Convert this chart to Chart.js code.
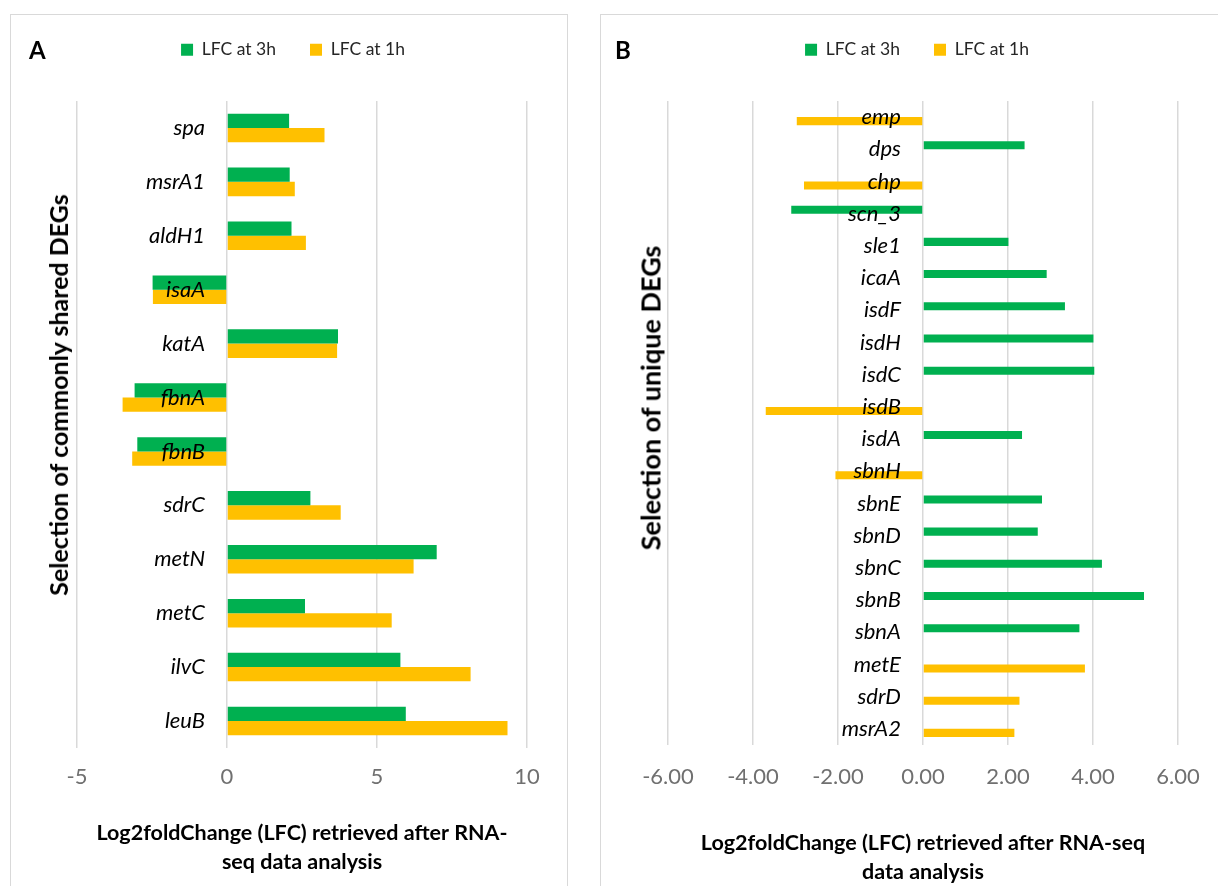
<!DOCTYPE html>
<html><head><meta charset="utf-8">
<script src="https://cdn.jsdelivr.net/npm/chart.js@4.4.1/dist/chart.umd.min.js"></script>
<style>
html,body{margin:0;padding:0;background:#fff;width:1218px;height:886px;overflow:hidden;font-family:Lato,sans-serif}
.panel{position:absolute;border:1.5px solid #d9d9d9;box-sizing:border-box}
#pa{left:10px;top:14px;width:558px;height:940px}
#pb{left:600px;top:14px;width:700px;height:940px}
canvas{position:absolute}
#ca{left:10px;top:14px}
#cb{left:600px;top:14px}
.letter{position:absolute;font-weight:bold;font-size:24px;color:#000;line-height:1}
.ytitle{position:absolute;font-weight:bold;font-size:25px;color:#000;white-space:nowrap;transform:translate(-50%,-50%) rotate(-90deg)}
</style>
</head>
<body>
<div class="panel" id="pa"></div>
<div class="panel" id="pb"></div>
<canvas id="ca" width="558" height="890"></canvas>
<canvas id="cb" width="640" height="890"></canvas>
<div class="letter" style="left:29px;top:38px">A</div>
<div class="letter" style="left:615px;top:38px">B</div>
<div class="ytitle" style="left:58px;top:395px">Selection of commonly shared DEGs</div>
<div class="ytitle" style="left:650px;top:398px;font-size:27px">Selection of unique DEGs</div>
<script>
// ---- Panel A data ----
const genesA = ['spa','msrA1','aldH1','isaA','katA','fbnA','fbnB','sdrC','metN','metC','ilvC','leuB'];
const lfc3hA = [2.07, 2.09, 2.15, -2.48, 3.70, -3.08, -2.99, 2.78, 6.99, 2.60, 5.78, 5.96];
const lfc1hA = [3.25, 2.26, 2.63, -2.47, 3.67, -3.48, -3.16, 3.79, 6.22, 5.49, 8.12, 9.35];
const ticksA = [-5, 0, 5, 10];
const tickLabelsA = ['-5', '0', '5', '10'];

// ---- Panel B data ----
const genesB = ['emp','dps','chp','scn_3','sle1','icaA','isdF','isdH','isdC','isdB','isdA','sbnH','sbnE','sbnD','sbnC','sbnB','sbnA','metE','sdrD','msrA2'];
const lfc3hB = [null, 2.39, null, -3.10, 2.01, 2.91, 3.34, 4.01, 4.03, null, 2.33, null, 2.80, 2.70, 4.21, 5.20, 3.68, null, null, null];
const lfc1hB = [-2.97, null, -2.80, null, null, null, null, null, null, -3.70, null, -2.06, null, null, null, null, null, 3.81, 2.27, 2.15];
const ticksB = [-6, -4, -2, 0, 2, 4, 6];
const tickLabelsB = ['-6.00', '-4.00', '-2.00', '0.00', '2.00', '4.00', '6.00'];

const seriesNames = ['LFC at 3h', 'LFC at 1h'];
const GREEN = '#00B050', YELLOW = '#FFC000', GRID = '#d9d9d9';

function makeChart(id, labels, s3, s1, ticks, tickLabels, cfg) {
  return new Chart(document.getElementById(id), {
    type: 'bar',
    data: {
      labels: labels,
      datasets: [
        {label: seriesNames[0], data: s3, backgroundColor: GREEN, borderWidth: 0, xAxisID: 'x', yAxisID: 'y'},
        {label: seriesNames[1], data: s1, backgroundColor: YELLOW, borderWidth: 0, xAxisID: 'x', yAxisID: 'y'}
      ]
    },
    options: {
      indexAxis: 'y',
      responsive: false,
      animation: false,
      devicePixelRatio: 1,
      datasets: {bar: {barPercentage: 1, categoryPercentage: cfg.catPct}},
      layout: {padding: cfg.padding},
      plugins: {
        legend: {
          position: 'top', align: 'center', weight: 1000,
          labels: {boxWidth: 12, boxHeight: 12, padding: 34, color: '#262626',
                   font: {family: 'Lato', size: 17.5}}
        },
        title: {display: true, text: ' ', weight: 500, padding: {top: 10.5, bottom: 10},
                font: {size: 10}},
        tooltip: {enabled: false}
      },
      scales: {
        x: {
          type: 'linear', position: 'bottom',
          min: ticks[0], max: ticks[ticks.length - 1],
          afterBuildTicks: (sc) => { sc.ticks = ticks.map(v => ({value: v})); },
          grid: {color: GRID, lineWidth: 1.5, drawTicks: false},
          border: {display: false},
          ticks: {padding: cfg.tickPad, color: '#707070', font: {family: 'Lato', size: 22},
                  maxRotation: 0,
                  callback: (v) => tickLabels[ticks.indexOf(v)]},
          title: {display: true, text: cfg.xTitle, color: '#000',
                  font: {family: 'Lato', size: 21.5, weight: 'bold', lineHeight: 1.35},
                  padding: {top: cfg.titlePadTop, bottom: 0}}
        },
        y: {
          type: 'category', position: {x: cfg.labelAt},
          grid: {display: false, drawTicks: false},
          border: {display: false},
          ticks: {z: 1, padding: 0, autoSkip: false, color: '#000',
                  font: {family: 'Lato', size: 22, style: 'italic'}}
        },
        ySpace: {
          axis: 'y', type: 'category', position: 'left', display: true,
          grid: {display: false, drawTicks: false},
          border: {display: false},
          ticks: {display: false},
          title: {display: true, text: ' ', padding: 0,
                  font: {size: cfg.spacer, lineHeight: 1}}
        }
      }
    }
  });
}

makeChart('ca', genesA, lfc3hA, lfc1hA, ticksA, tickLabelsA, {
  catPct: 0.53, labelAt: -0.73, spacer: 18,
  padding: {left: 49, right: 41, top: -7, bottom: 27.5},
  tickPad: 15.8, titlePadTop: 12.5,
  xTitle: ['Log2foldChange (LFC) retrieved after RNA-', 'seq data analysis']
});
makeChart('cb', genesB, lfc3hB, lfc1hB, ticksB, tickLabelsB, {
  catPct: 0.5, labelAt: -0.52, spacer: 12,
  padding: {left: 56, right: 62, top: -7, bottom: 17.5},
  tickPad: 18.8, titlePadTop: 19.5,
  xTitle: ['Log2foldChange (LFC) retrieved after RNA-seq', 'data analysis']
});
</script>
</body></html>
